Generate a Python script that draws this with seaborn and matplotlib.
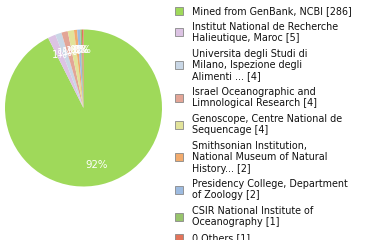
import matplotlib
matplotlib.use("Agg")
import matplotlib.pyplot as plt
import seaborn as sns
from matplotlib.patches import Rectangle

sns.set_theme(style="white")
plt.rcParams['font.family'] = ['DejaVu Sans']

labels = [
    "Mined from GenBank, NCBI [286]",
    "Institut National de Recherche\nHalieutique, Maroc [5]",
    "Universita degli Studi di\nMilano, Ispezione degli\nAlimenti ... [4]",
    "Israel Oceanographic and\nLimnological Research [4]",
    "Genoscope, Centre National de\nSequencage [4]",
    "Smithsonian Institution,\nNational Museum of Natural\nHistory... [2]",
    "Presidency College, Department\nof Zoology [2]",
    "CSIR National Institute of\nOceanography [1]",
    "0 Others [1]",
]
values = [286, 5, 4, 4, 4, 2, 2, 1, 1]
colors = ["#9fd95a", "#dcc3e3", "#c9d7e6", "#e3a596", "#e2e39a",
          "#f2ab6d", "#9dbbe0", "#98c46c", "#e3745a"]

W, H = 380, 240
fig = plt.figure(figsize=(3.8, 2.4), dpi=100)
cx, cy, r = 83.5, 108, 78.5
ax = fig.add_axes([(cx - r) / W, 1 - (cy + r) / H, 2 * r / W, 2 * r / H])
wedges, texts, autotexts = ax.pie(
    values, colors=colors, startangle=90, counterclock=False,
    autopct=lambda p: f"{int(p)}%", pctdistance=0.74,
    textprops=dict(color="white", fontsize=7.3),
    wedgeprops=dict(linewidth=0))
ax.set_xlim(-1, 1)
ax.set_ylim(-1, 1)
ax.set_aspect("equal")
ax.axis("off")

# legend
line_h = 11.2
gap = 4.6
y = 5.4
fs = 6.9
for lab, col in zip(labels, colors):
    n = lab.count("\n") + 1
    block_h = n * line_h
    ymid = y + block_h / 2
    sq = 8
    fig.patches.append(Rectangle((174.7 / W, 1 - (ymid + sq / 2) / H), sq / W, sq / H,
                                 transform=fig.transFigure, facecolor=col,
                                 edgecolor="#888888", linewidth=0.6))
    fig.text(192 / W, 1 - ymid / H, lab, fontsize=fs, va="center", ha="left",
             color="#111111", linespacing=1.17)
    y += block_h + gap

fig.savefig("out.png", dpi=100)
